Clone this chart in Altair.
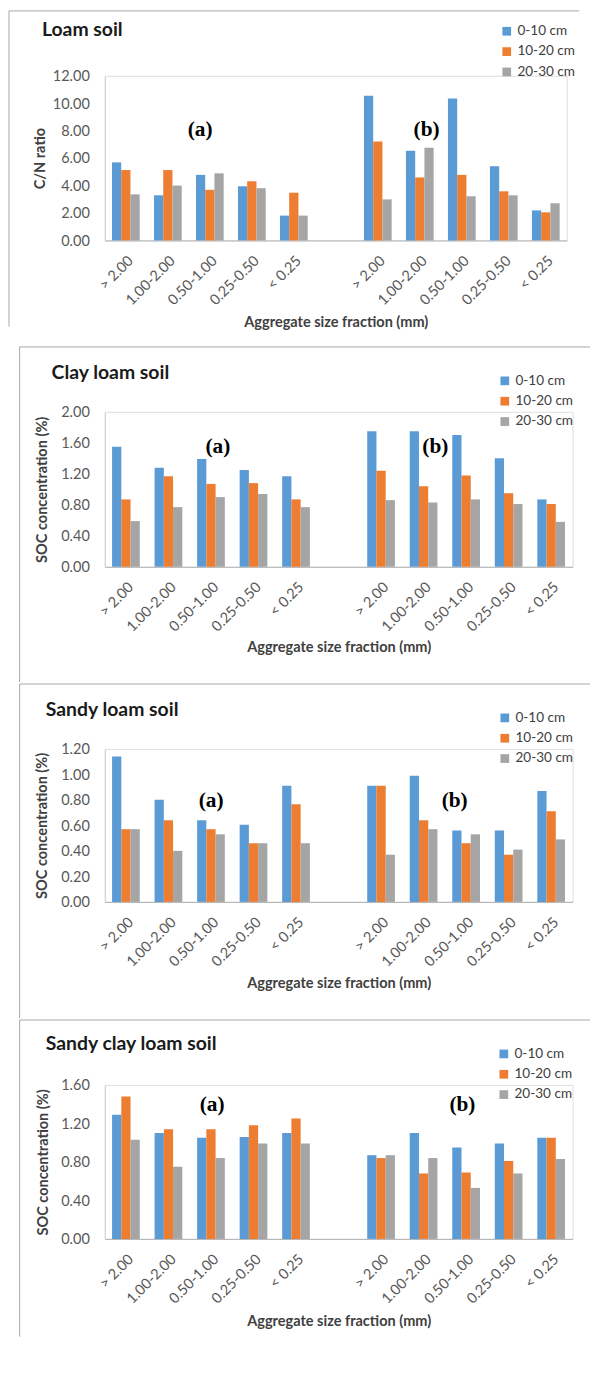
import altair as alt
import pandas as pd

# ---------------- data ----------------
categories = ["> 2.00", "1.00-2.00", "0.50-1.00", "0.25-0.50", "< 0.25"]
depths = ["0-10 cm", "10-20 cm", "20-30 cm"]
colors = ["#5B9BD5", "#ED7D31", "#A5A5A5"]

# Loam soil (C/N ratio)
loam_a_0_10 = [5.69, 3.29, 4.78, 3.95, 1.81]
loam_a_10_20 = [5.13, 5.13, 3.69, 4.31, 3.48]
loam_a_20_30 = [3.36, 4.00, 4.89, 3.81, 1.81]
loam_b_0_10 = [10.54, 6.54, 10.35, 5.41, 2.19]
loam_b_10_20 = [7.22, 4.59, 4.78, 3.58, 2.05]
loam_b_20_30 = [2.99, 6.75, 3.22, 3.29, 2.71]

# Clay loam soil (SOC %)
clay_a_0_10 = [1.55, 1.28, 1.39, 1.25, 1.17]
clay_a_10_20 = [0.87, 1.17, 1.07, 1.08, 0.87]
clay_a_20_30 = [0.59, 0.77, 0.90, 0.94, 0.77]
clay_b_0_10 = [1.75, 1.75, 1.70, 1.40, 0.87]
clay_b_10_20 = [1.24, 1.04, 1.18, 0.95, 0.81]
clay_b_20_30 = [0.86, 0.83, 0.87, 0.81, 0.58]

# Sandy loam soil (SOC %)
sandy_a_0_10 = [1.14, 0.80, 0.64, 0.605, 0.91]
sandy_a_10_20 = [0.57, 0.64, 0.57, 0.46, 0.765]
sandy_a_20_30 = [0.57, 0.40, 0.53, 0.46, 0.46]
sandy_b_0_10 = [0.91, 0.99, 0.56, 0.56, 0.87]
sandy_b_10_20 = [0.91, 0.64, 0.46, 0.37, 0.71]
sandy_b_20_30 = [0.37, 0.57, 0.53, 0.41, 0.49]

# Sandy clay loam soil (SOC %)
scl_a_0_10 = [1.29, 1.10, 1.05, 1.06, 1.10]
scl_a_10_20 = [1.48, 1.14, 1.14, 1.18, 1.25]
scl_a_20_30 = [1.03, 0.75, 0.84, 0.99, 0.99]
scl_b_0_10 = [0.87, 1.10, 0.95, 0.99, 1.05]
scl_b_10_20 = [0.84, 0.68, 0.69, 0.81, 1.05]
scl_b_20_30 = [0.87, 0.84, 0.53, 0.68, 0.83]

panel_titles = ["Loam soil", "Clay loam soil", "Sandy loam soil", "Sandy clay loam soil"]
y_titles = ["C/N ratio", "SOC concentration (%)", "SOC concentration (%)", "SOC concentration (%)"]
y_max = [12, 2.0, 1.2, 1.6]
y_ticks = [
    [0, 2, 4, 6, 8, 10, 12],
    [0, 0.4, 0.8, 1.2, 1.6, 2.0],
    [0, 0.2, 0.4, 0.6, 0.8, 1.0, 1.2],
    [0, 0.4, 0.8, 1.2, 1.6],
]
x_title = "Aggregate size fraction (mm)"
ann_labels = ["(a)", "(b)"]
ann_slots = [["a|0.50-1.00", "b|1.00-2.00"], ["a|0.50-1.00", "b|1.00-2.00"],
             ["a|0.50-1.00", "b|0.50-1.00"], ["a|0.50-1.00", "b|0.50-1.00"]]
ann_values = [[8.1, 8.1], [1.55, 1.55], [0.80, 0.80], [1.40, 1.40]]

series = [
    ([loam_a_0_10, loam_a_10_20, loam_a_20_30], [loam_b_0_10, loam_b_10_20, loam_b_20_30]),
    ([clay_a_0_10, clay_a_10_20, clay_a_20_30], [clay_b_0_10, clay_b_10_20, clay_b_20_30]),
    ([sandy_a_0_10, sandy_a_10_20, sandy_a_20_30], [sandy_b_0_10, sandy_b_10_20, sandy_b_20_30]),
    ([scl_a_0_10, scl_a_10_20, scl_a_20_30], [scl_b_0_10, scl_b_10_20, scl_b_20_30]),
]

slot_keys = ["a|" + c for c in categories] + ["gap"] + ["b|" + c for c in categories]

# ---------------- layout (pixels) ----------------
geom = [
    dict(L=107, T=78, W=477, H=170, top=11, bottom=356, lbottom=337, tx=-65, ty=-41,
         lx=408, ly=-53, xty=84, ytx=-67, adx=[-10, 7]),
    dict(L=96, T=423, W=483, H=160, top=356, bottom=702, lbottom=702, tx=-55, ty=-34,
         lx=406, ly=-39, xty=82, ytx=-65, adx=[7, 12]),
    dict(L=96, T=769, W=483, H=158, top=702, bottom=1047, lbottom=1047, tx=-61, ty=-34,
         lx=406, ly=-39, xty=83, ytx=-65, adx=[0, -12]),
    dict(L=96, T=1114, W=483, H=159, top=1047, bottom=1374, lbottom=1374, tx=-61, ty=-36,
         lx=405, ly=-39, xty=84, ytx=-64, adx=[1, -4]),
]
FRAME_LEFT, FRAME_RIGHT = 8, 597
BORDER = "#a6a6a6"


def make_df(a_series, b_series):
    rows = []
    for depth, a_vals, b_vals in zip(depths, a_series, b_series):
        for c, v in zip(categories, a_vals):
            rows.append({"slot": "a|" + c, "depth": depth, "value": v})
        for c, v in zip(categories, b_vals):
            rows.append({"slot": "b|" + c, "depth": depth, "value": v})
    return pd.DataFrame(rows)


def panel(i):
    g = geom[i]
    L, T, W, H = g["L"], g["T"], g["W"], g["H"]
    df = make_df(*series[i])

    x_axis = alt.Axis(
        title=x_title, labelAngle=315, labelAlign="right", labelBaseline="top",
        labelExpr="indexof(datum.value, '|') >= 0 ? split(datum.value, '|')[1] : ''",
        labelFont="Lato", labelFontSize=15, labelColor="#595959", labelPadding=13,
        labelOverlap=False, ticks=False, grid=False, domainColor="#b0b0b0",
        titleFont="Lato", titleFontSize=15, titleFontWeight="bold", titleColor="#404040",
        titleY=g["xty"], titleBaseline="middle",
    )
    y_axis = alt.Axis(
        title=y_titles[i], values=y_ticks[i], format=".2f", grid=False, ticks=False,
        domainColor="#d0d0d0", labelFont="Lato", labelFontSize=15, labelColor="#595959",
        labelPadding=16, titleFont="Lato", titleFontSize=15, titleFontWeight="bold",
        titleColor="#404040", titleX=g["ytx"], titleBaseline="middle", titleAngle=270,
    )
    x_enc = alt.X("slot:N", scale=alt.Scale(domain=slot_keys, paddingInner=0.34, paddingOuter=0.17), axis=x_axis)
    y_enc = alt.Y("value:Q", scale=alt.Scale(domain=[0, y_max[i]], nice=False), axis=y_axis)

    bars = alt.Chart(df).mark_bar().encode(
        x=x_enc,
        xOffset=alt.XOffset("depth:N", scale=alt.Scale(domain=depths)),
        y=y_enc,
        color=alt.Color(
            "depth:N", scale=alt.Scale(domain=depths, range=colors), title=None,
            legend=alt.Legend(
                orient="none", legendX=g["lx"], legendY=g["ly"], symbolType="square",
                symbolSize=81, symbolStrokeWidth=0, labelFont="Lato", labelFontSize=14,
                labelColor="#404040", rowPadding=7, padding=0, labelOffset=4,
            ),
        ),
    )

    layers = []
    # frame (bounds + visible border lines)
    fdf = pd.DataFrame({"k": [0]})
    layers.append(alt.Chart(fdf).mark_rect(opacity=0).encode(
        x=alt.value(FRAME_LEFT - L), x2=alt.value(FRAME_RIGHT - L),
        y=alt.value(g["top"] - T), y2=alt.value(g["bottom"] - T)))
    layers.append(alt.Chart(fdf).mark_rule(color=BORDER, strokeWidth=1).encode(
        x=alt.value(FRAME_LEFT - L), x2=alt.value(FRAME_RIGHT - L), y=alt.value(g["top"] - T)))
    layers.append(alt.Chart(fdf).mark_rule(color=BORDER, strokeWidth=1).encode(
        x=alt.value(FRAME_LEFT - L), y=alt.value(g["top"] - T), y2=alt.value(g["lbottom"] - T)))

    layers.append(bars)

    # panel title
    tdf = pd.DataFrame({"t": [panel_titles[i]]})
    layers.append(alt.Chart(tdf).mark_text(
        font="Lato", fontSize=20, fontWeight="bold", align="left", baseline="alphabetic",
        color="#1a1a1a").encode(x=alt.value(g["tx"]), y=alt.value(g["ty"]), text="t:N"))

    # (a) / (b) annotations
    for j in range(2):
        adf = pd.DataFrame({"slot": [ann_slots[i][j]], "value": [ann_values[i][j]], "label": [ann_labels[j]]})
        layers.append(alt.Chart(adf).mark_text(
            font="Liberation Serif", fontSize=22, fontWeight="bold", baseline="middle",
            align="center", color="#000000", dx=g["adx"][j]).encode(
            x=alt.X("slot:N", scale=alt.Scale(domain=slot_keys, paddingInner=0.34, paddingOuter=0.17), axis=x_axis),
            y=alt.Y("value:Q", scale=alt.Scale(domain=[0, y_max[i]], nice=False), axis=y_axis),
            text="label:N"))

    return alt.layer(*layers).properties(width=W, height=H)


chart = alt.vconcat(*[panel(i) for i in range(4)], spacing=0).resolve_scale(
    color="independent", x="independent", y="independent"
).properties(
    padding={"left": 0, "top": -20, "right": 0, "bottom": 0}
).configure_view(strokeWidth=0).configure(background="white")

chart.save("out.html", embed_options={"renderer": "svg", "actions": False})
